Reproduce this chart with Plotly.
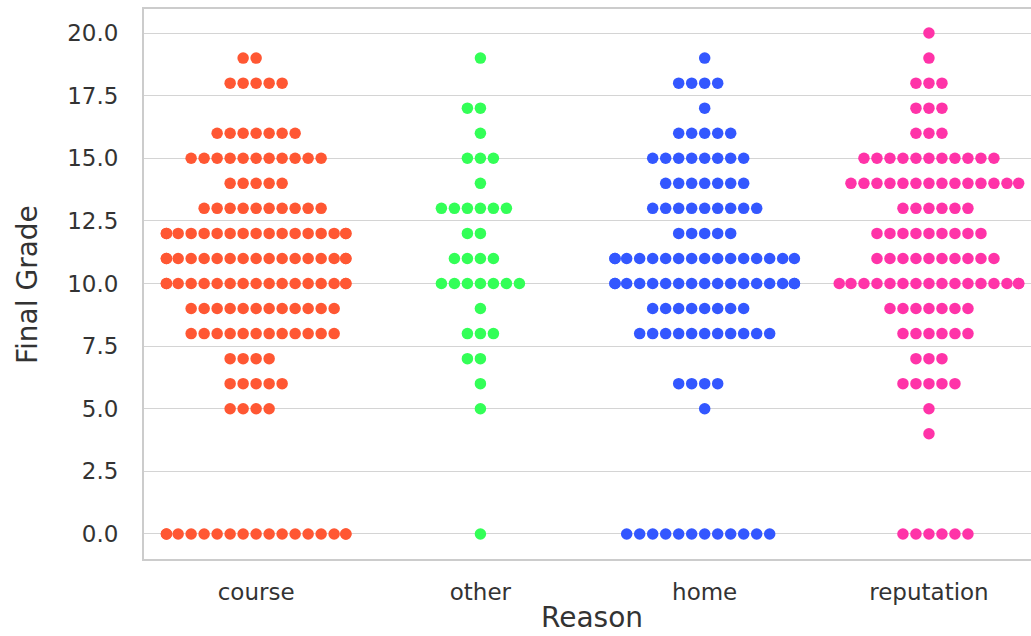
import plotly.graph_objects as go

# Final grade distribution by the student's reason for choosing the school
reasons = ["course", "other", "home", "reputation"]

course_grades = [19, 18, 16, 15, 14, 13, 12, 11, 10, 9, 8, 7, 6, 5, 0]
course_counts = [2, 5, 7, 11, 5, 10, 17, 17, 17, 12, 12, 4, 5, 4, 17]

other_grades = [19, 17, 16, 15, 14, 13, 12, 11, 10, 9, 8, 7, 6, 5, 0]
other_counts = [1, 2, 1, 3, 1, 6, 2, 4, 7, 1, 3, 2, 1, 1, 1]

home_grades = [19, 18, 17, 16, 15, 14, 13, 12, 11, 10, 9, 8, 6, 5, 0]
home_counts = [1, 4, 1, 5, 8, 7, 9, 5, 16, 17, 8, 11, 4, 1, 12]

reputation_grades = [20, 19, 18, 17, 16, 15, 14, 13, 12, 11, 10, 9, 8, 7, 6, 5, 4, 0]
reputation_counts = [1, 1, 3, 3, 3, 11, 14, 6, 9, 10, 16, 7, 6, 3, 5, 1, 1, 6]

y_ticks = [0, 2.5, 5, 7.5, 10, 12.5, 15, 17.5, 20]
y_tick_labels = ["0.0", "2.5", "5.0", "7.5", "10.0", "12.5", "15.0", "17.5", "20.0"]

series = {
    "course": (course_grades, course_counts),
    "other": (other_grades, other_counts),
    "home": (home_grades, home_counts),
    "reputation": (reputation_grades, reputation_counts),
}

colors = {"course": "#FF5733", "other": "#33FF57", "home": "#3357FF", "reputation": "#FF33A8"}

# ---- layout geometry ----
W, H = 1031, 636
M_L, M_R, M_T, M_B = 144, 0, 9, 77
X_RANGE = [-0.5, 3.455]
Y_RANGE = [-1.0, 20.96]
DOT_STEP_PX = 13.0      # horizontal spacing between neighbouring dots
SWARM_HALF = 0.4        # swarm half-width in category units (gutter)

px_per_cat = (W - M_L - M_R) / (X_RANGE[1] - X_RANGE[0])
step = DOT_STEP_PX / px_per_cat


def tie_side(reason, n):
    """Which side gets the extra dot in an even-sized row."""
    if reason == "reputation":
        return "right"
    if reason == "course" and n >= 10:
        return "right"
    return "left"


def swarm_offsets(n, side):
    order = [0]
    k = 1
    while len(order) < n:
        a, b = (-k, k) if side == "left" else (k, -k)
        order.append(a)
        if len(order) < n:
            order.append(b)
        k += 1
    return [max(-SWARM_HALF, min(SWARM_HALF, o * step)) for o in order]


fig = go.Figure()
for i, reason in enumerate(reasons):
    grades, counts = series[reason]
    xs, ys = [], []
    for g, c in zip(grades, counts):
        for off in swarm_offsets(c, tie_side(reason, c)):
            xs.append(i + off)
            ys.append(g)
    fig.add_trace(go.Scatter(
        x=xs, y=ys, mode="markers", name=reason, showlegend=False,
        marker=dict(color=colors[reason], size=11.5, line=dict(width=0)),
        hoverinfo="y",
    ))

text_color = "#333333"
font_family = "DejaVu Sans"

fig.update_layout(
    width=W, height=H,
    margin=dict(l=M_L, r=M_R, t=M_T, b=M_B, pad=0),
    paper_bgcolor="white", plot_bgcolor="white",
    font=dict(family=font_family, color=text_color),
    xaxis=dict(
        range=X_RANGE, tickmode="array", tickvals=list(range(len(reasons))),
        ticktext=reasons, showgrid=False, zeroline=False,
        showline=True, linecolor="#cccccc", linewidth=2, mirror=True,
        ticks="", tickfont=dict(size=23, color=text_color),
        ticklabelstandoff=11,
    ),
    yaxis=dict(
        range=Y_RANGE, tickmode="array", tickvals=y_ticks, ticktext=y_tick_labels,
        showgrid=True, gridcolor="#d4d4d4", gridwidth=1.4, zeroline=False,
        showline=True, linecolor="#cccccc", linewidth=2, mirror=False,
        ticks="", tickfont=dict(size=23, color=text_color),
        ticklabelstandoff=19,
    ),
    annotations=[
        dict(text="Reason", xref="paper", yref="paper",
             x=(592 - M_L) / (W - M_L - M_R), y=-(617 - (H - M_B)) / (H - M_T - M_B),
             xanchor="center", yanchor="middle", showarrow=False,
             font=dict(size=28, color=text_color, family=font_family)),
        dict(text="Final Grade", xref="paper", yref="paper",
             x=-(M_L - 27) / (W - M_L - M_R), y=((H - M_B) - 285) / (H - M_T - M_B),
             xanchor="center", yanchor="middle", textangle=-90, showarrow=False,
             font=dict(size=28, color=text_color, family=font_family)),
    ],
)

fig.write_html("out.html")
